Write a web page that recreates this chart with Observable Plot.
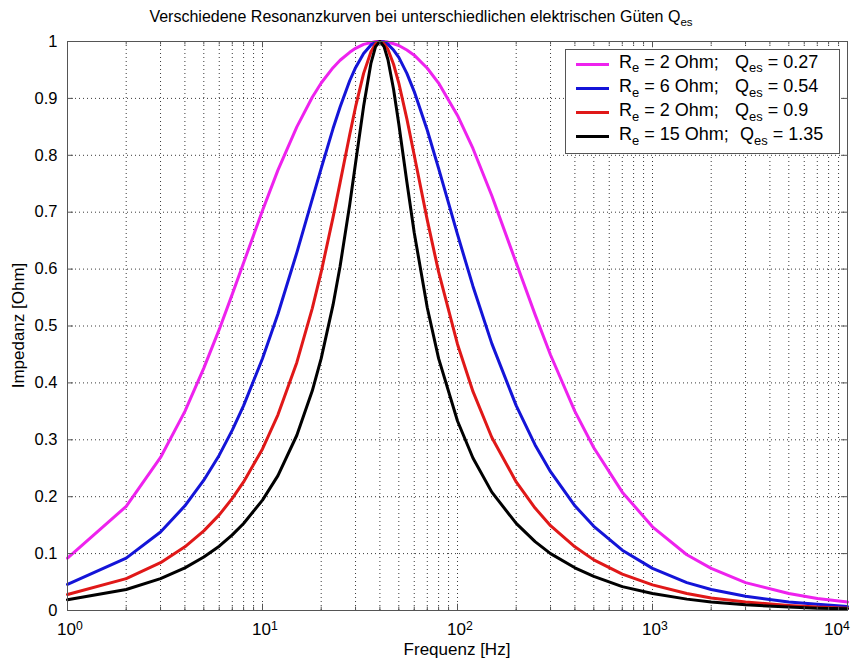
<!DOCTYPE html>
<html><head><meta charset="utf-8">
<script src="https://cdn.jsdelivr.net/npm/d3@7"></script>
<script src="https://cdn.jsdelivr.net/npm/@observablehq/plot@0.6"></script>
<style>
body{margin:0;background:#fff;}
#fig{position:relative;width:860px;height:664px;font-family:"Liberation Sans",Arial,Helvetica,sans-serif;color:#000;background:#fff;}
#fig svg{position:absolute;left:0;top:0;}
.abs{position:absolute;white-space:nowrap;line-height:1;}
.sub{font-size:0.72em;position:relative;top:0.38em;}
.sup{font-size:0.72em;position:relative;top:-0.45em;}
</style></head><body><div id="fig"></div>
<script>
// ---- data ----
const frequencies = [1,2,3,4,5,6,7,8,10,12,15,18,20,23,25,28,30,33,36,38,40,42,44,47,50,55,60,70,80,100,120,150,200,250,300,400,500,700,1000,1500,2000,3000,5000,7000,10000];
const magentaValues = [0.092,0.183,0.269,0.350,0.426,0.494,0.556,0.611,0.703,0.774,0.850,0.902,0.927,0.954,0.967,0.981,0.988,0.995,0.998,1.000,1,1.000,0.999,0.996,0.993,0.985,0.976,0.953,0.927,0.870,0.812,0.729,0.611,0.520,0.449,0.350,0.286,0.208,0.147,0.098,0.074,0.049,0.030,0.021,0.015];
const blueValues = [0.046,0.092,0.138,0.184,0.229,0.273,0.317,0.360,0.443,0.521,0.629,0.723,0.777,0.847,0.885,0.931,0.954,0.979,0.994,0.998,1,0.999,0.995,0.985,0.972,0.944,0.912,0.844,0.777,0.661,0.570,0.469,0.360,0.291,0.244,0.184,0.148,0.106,0.074,0.049,0.037,0.025,0.015,0.011,0.007];
const redValues = [0.028,0.056,0.084,0.112,0.140,0.168,0.197,0.226,0.284,0.344,0.436,0.531,0.595,0.691,0.752,0.836,0.885,0.944,0.982,0.996,1,0.996,0.986,0.960,0.927,0.864,0.800,0.686,0.595,0.468,0.385,0.304,0.226,0.180,0.149,0.112,0.089,0.064,0.045,0.030,0.022,0.015,0.009,0.006,0.004];
const blackValues = [0.019,0.037,0.056,0.075,0.094,0.113,0.133,0.153,0.194,0.237,0.308,0.386,0.443,0.537,0.605,0.713,0.786,0.886,0.962,0.991,1,0.991,0.968,0.916,0.855,0.753,0.664,0.532,0.443,0.333,0.268,0.208,0.153,0.121,0.100,0.075,0.060,0.042,0.030,0.020,0.015,0.010,0.006,0.004,0.003];
const seriesKeys = ["Qes 0.27","Qes 0.54","Qes 0.9","Qes 1.35"];
const seriesColors = ["#ee22ee","#1414d8","#e01818","#000000"];
const reLabels = ["2","6","2","15"];
const qLabels = ["0.27","0.54","0.9","1.35"];
const yTicks = [0,0.1,0.2,0.3,0.4,0.5,0.6,0.7,0.8,0.9,1];
const xDecades = [1,10,100,1000,10000];
const xExponents = ["0","1","2","3","4"];
const titleText = "Verschiedene Resonanzkurven bei unterschiedlichen elektrischen Güten Q";
const titleSub = "es";
const xLabel = "Frequenz [Hz]";
const yLabel = "Impedanz [Ohm]";

// ---- build ----
const seriesValues = [magentaValues, blueValues, redValues, blackValues];
const rows = seriesKeys.map((k, i) => frequencies.map((f, j) => ({f, v: seriesValues[i][j], key: k})));
const xMinor = [];
for (const d of xDecades.slice(0, -1)) for (let k = 2; k <= 9; k++) xMinor.push(d * k);
const xGrid = [...xDecades, ...xMinor];

const W = 860, H = 664, mL = 67, mR = 13, mT = 41, mB = 54;
const tickX = Math.pow(10, 6 / 195);   // factor for inner y-ticks
const gridStyle = {stroke: "#3a3a3a", strokeWidth: 1, strokeDasharray: "1,3"};

const plot = Plot.plot({
  width: W, height: H,
  marginLeft: mL, marginRight: mR, marginTop: mT, marginBottom: mB,
  style: {fontFamily: '"Liberation Sans",Arial,Helvetica,sans-serif', fontSize: "16.5px", background: "white", color: "#000"},
  x: {type: "log", domain: [1, 10000], axis: null},
  y: {domain: [0, 1], ticks: yTicks, tickSize: 0, tickPadding: 10, label: null,
      tickFormat: d => String(+d.toFixed(1))},
  marks: [
    Plot.ruleX(xGrid, gridStyle),
    Plot.ruleY(yTicks, gridStyle),
    ...rows.map((r, i) => Plot.line(r, {x: "f", y: "v", stroke: seriesColors[i], strokeWidth: 3, strokeLinejoin: "round"})),
    // inner tick marks (MATLAB style)
    Plot.ruleX(xDecades, {y1: 0, y2: 0.011, stroke: "#555"}),
    Plot.ruleX(xDecades, {y1: 1, y2: 0.989, stroke: "#555"}),
    Plot.ruleX(xMinor, {y1: 0, y2: 0.006, stroke: "#555"}),
    Plot.ruleX(xMinor, {y1: 1, y2: 0.994, stroke: "#555"}),
    Plot.ruleY(yTicks, {x1: 1, x2: tickX, stroke: "#555"}),
    Plot.ruleY(yTicks, {x1: 10000, x2: 10000 / tickX, stroke: "#555"}),
    Plot.frame({stroke: "#555", strokeWidth: 1})
  ]
});
const fig = document.getElementById("fig");
fig.appendChild(plot);
const xs = plot.scale("x");

// x tick labels with superscripts (last one pulled inward to stay inside the figure)
xDecades.forEach((d, i) => {
  const el = document.createElement("div");
  el.className = "abs";
  el.style.fontSize = "17px";
  el.style.left = (xs.apply(d) - (i === xDecades.length - 1 ? 23 : 10)) + "px";
  el.style.top = "621px";
  el.innerHTML = `10<span class="sup">${xExponents[i]}</span>`;
  fig.appendChild(el);
});

// title
const t = document.createElement("div");
t.className = "abs";
t.style.cssText += "left:0;width:842px;text-align:center;top:9px;font-size:16px;";
t.innerHTML = `${titleText}<span class="sub">${titleSub}</span>`;
fig.appendChild(t);

// axis labels
const xl = document.createElement("div");
xl.className = "abs";
xl.style.cssText += `left:${(mL + W - mR) / 2 - 150}px;width:300px;text-align:center;top:641px;font-size:17px;`;
xl.textContent = xLabel;
fig.appendChild(xl);
const yl = document.createElement("div");
yl.className = "abs";
yl.style.cssText += `left:${18 - 150}px;width:300px;text-align:center;top:${(mT + H - mB) / 2 - 8.5}px;font-size:17px;transform:rotate(-90deg);transform-origin:50% 50%;`;
yl.textContent = yLabel;
fig.appendChild(yl);

// legend
const lg = document.createElement("div");
lg.style.cssText = "position:absolute;left:565px;top:49px;width:273px;height:103px;border:1px solid #555;background:#fff;";
fig.appendChild(lg);
seriesKeys.forEach((k, i) => {
  const cy = 14 + i * 24.2;
  const sw = document.createElement("div");
  sw.style.cssText = `position:absolute;left:10px;top:${cy - 1.5}px;width:33px;height:3px;background:${seriesColors[i]};`;
  lg.appendChild(sw);
  const r = document.createElement("div");
  r.className = "abs";
  r.style.cssText += `left:53px;top:${cy - 11.5}px;font-size:18px;`;
  r.innerHTML = `R<span class="sub">e</span> = ${reLabels[i]} Ohm;`;
  lg.appendChild(r);
  const q = document.createElement("div");
  q.className = "abs";
  q.style.cssText += `left:${i === 3 ? 174 : 169}px;top:${cy - 11.5}px;font-size:18px;`;
  q.innerHTML = `Q<span class="sub">es</span> = ${qLabels[i]}`;
  lg.appendChild(q);
});
</script></body></html>
